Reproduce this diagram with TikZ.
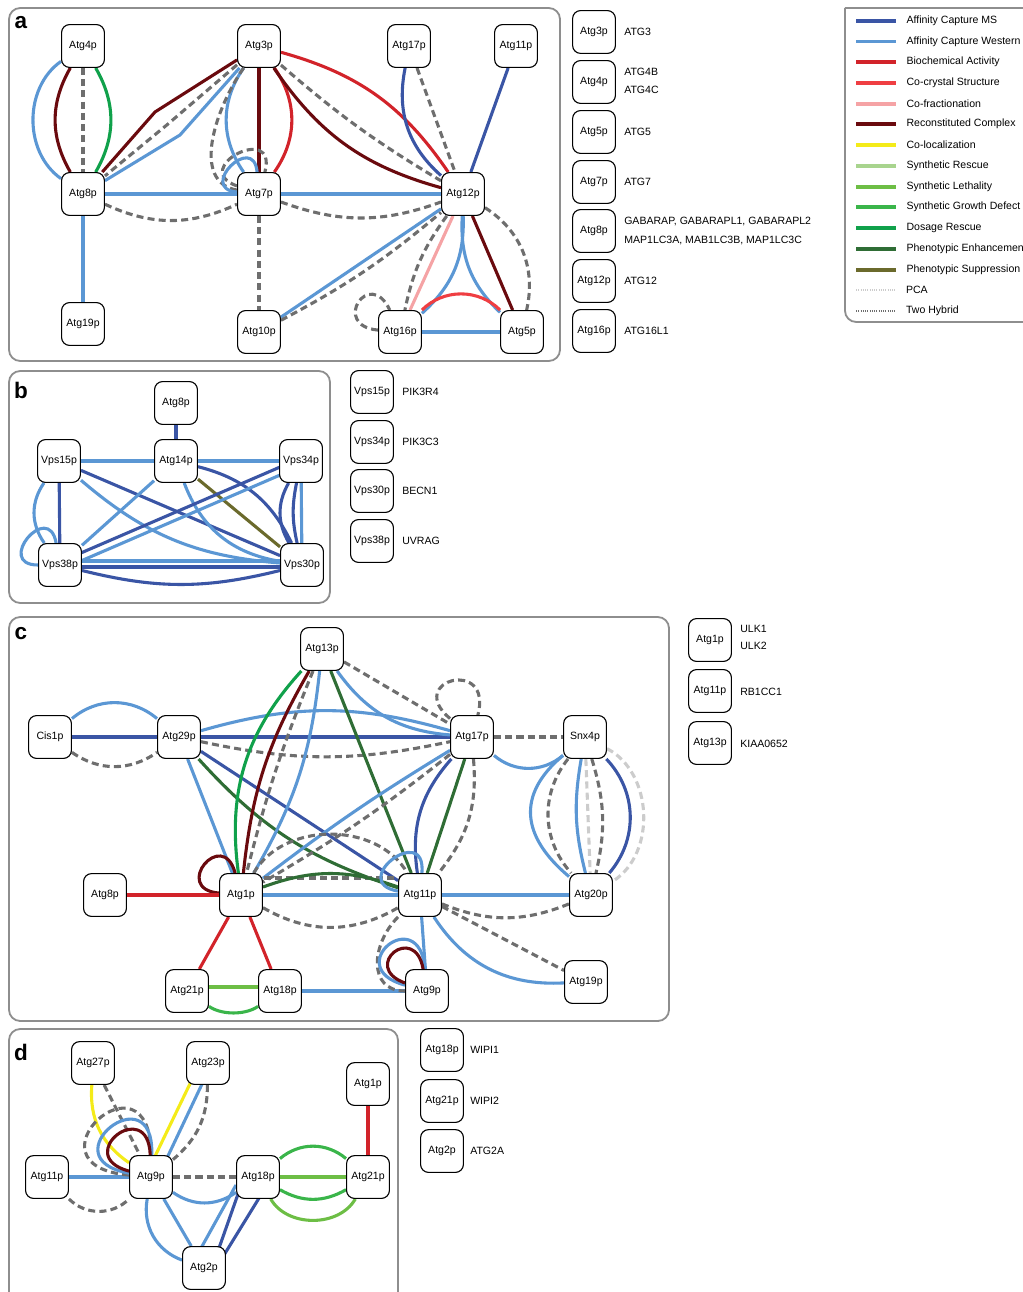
\documentclass[tikz,border=0pt]{standalone}
\usepackage{fontspec}
\setmainfont{Liberation Sans}
\usetikzlibrary{calc}
\definecolor{cms}{HTML}{3A55A5}
\definecolor{cwb}{HTML}{5B97D4}
\definecolor{cbio}{HTML}{D2232A}
\definecolor{cxtal}{HTML}{EF3E42}
\definecolor{cfrac}{HTML}{F5A3A5}
\definecolor{crcx}{HTML}{6A0A0E}
\definecolor{cloc}{HTML}{F4EB19}
\definecolor{csrs}{HTML}{A8D48E}
\definecolor{csl}{HTML}{6DBE45}
\definecolor{csgd}{HTML}{3AB54A}
\definecolor{cdr}{HTML}{10A14B}
\definecolor{cpe}{HTML}{2F6D35}
\definecolor{cps}{HTML}{6B6A2C}
\definecolor{cpca}{HTML}{CCCCCC}
\definecolor{cyth}{HTML}{6E6E6E}
\definecolor{rahmen}{HTML}{8E8E8E}
\pgfdeclarelayer{bg}
\pgfsetlayers{bg,main}
\tikzset{
  prot/.style={draw,fill=white,rounded corners=0.2cm,minimum width=1.07cm,minimum height=1.07cm,inner sep=0pt,line width=0.8pt,font=\fontsize{7.5}{9}\selectfont},
  txt/.style={anchor=west,inner sep=0pt,font=\fontsize{7.5}{9}\selectfont},
  lgd/.style={anchor=west,inner sep=0pt,xshift=6.4pt,text=black,font=\fontsize{7.5}{9}\selectfont},
  lbl/.style={inner sep=0pt,font=\fontsize{16}{16}\selectfont\bfseries},
  panel/.style={rahmen,line width=1.3pt,rounded corners=0.28cm},
  lk/.style={line width=2.2pt},
  ms/.style={lk,cms},
  wb/.style={lk,cwb},
  bio/.style={lk,cbio},
  xtal/.style={lk,cxtal},
  frac/.style={lk,cfrac},
  rcx/.style={lk,crcx},
  loc/.style={lk,cloc},
  srs/.style={lk,csrs},
  sl/.style={lk,csl},
  sgd/.style={lk,csgd},
  dr/.style={lk,cdr},
  pe/.style={lk,cpe},
  ps/.style={lk,cps},
  pca/.style={lk,cpca,dash pattern=on 5pt off 3pt},
  yth/.style={lk,cyth,dash pattern=on 5pt off 3pt},
  dots/.style={line width=1.5pt,dash pattern=on 0.8pt off 0.8pt},
}

\begin{document}
\begin{tikzpicture}[x=0.025cm,y=0.025cm]
  \useasboundingbox (0,0) rectangle (1022,-1292);

  % a
  \node[lbl] (lab-a) at (21,-23) {a};
  \node[prot] (a4) at (83,-46) {Atg4p};
  \node[prot] (a3) at (259,-46) {Atg3p};
  \node[prot] (a17) at (409,-46) {Atg17p};
  \node[prot] (a11) at (516,-46) {Atg11p};
  \node[prot] (a8) at (83,-194) {Atg8p};
  \node[prot] (a7) at (259,-194) {Atg7p};
  \node[prot] (a12) at (463,-194) {Atg12p};
  \node[prot] (a19) at (83,-324) {Atg19p};
  \node[prot] (a10) at (259,-332) {Atg10p};
  \node[prot] (a16) at (400,-332) {Atg16p};
  \node[prot] (a5) at (522,-332) {Atg5p};

  \node[prot] (la3) at (594,-32) {Atg3p};
  \node[prot] (la4) at (594,-82) {Atg4p};
  \node[prot] (la5) at (594,-132) {Atg5p};
  \node[prot] (la7) at (594,-182) {Atg7p};
  \node[prot] (la8) at (594,-231) {Atg8p};
  \node[prot] (la12) at (594,-281) {Atg12p};
  \node[prot] (la16) at (594,-331) {Atg16p};
  \node[txt] (ta3) at (624,-32) {ATG3};
  \node[txt] (ta4b) at (624,-72) {ATG4B};
  \node[txt] (ta4c) at (624,-90) {ATG4C};
  \node[txt] (ta5) at (624,-132) {ATG5};
  \node[txt] (ta7) at (624,-182) {ATG7};
  \node[txt] (ta8a) at (624,-221) {GABARAP, GABARAPL1, GABARAPL2};
  \node[txt] (ta8b) at (624,-240) {MAP1LC3A, MAB1LC3B, MAP1LC3C};
  \node[txt] (ta12) at (624,-281) {ATG12};
  \node[txt] (ta16) at (624,-331) {ATG16L1};

  % b
  \node[lbl] (lab-b) at (21,-390) {b};
  \node[prot] (b8) at (176,-403) {Atg8p};
  \node[prot] (b14) at (176,-461) {Atg14p};
  \node[prot] (b15) at (59,-461) {Vps15p};
  \node[prot] (b34) at (301,-461) {Vps34p};
  \node[prot] (b38) at (60,-565) {Vps38p};
  \node[prot] (b30) at (302,-565) {Vps30p};

  \node[prot] (lb15) at (372,-392) {Vps15p};
  \node[prot] (lb34) at (372,-442) {Vps34p};
  \node[prot] (lb30) at (372,-491) {Vps30p};
  \node[prot] (lb38) at (372,-541) {Vps38p};
  \node[txt] (tb15) at (402,-392) {PIK3R4};
  \node[txt] (tb34) at (402,-442) {PIK3C3};
  \node[txt] (tb30) at (402,-491) {BECN1};
  \node[txt] (tb38) at (402,-541) {UVRAG};

  % c
  \node[lbl] (lab-c) at (21,-634) {c};
  \node[prot] (c13) at (322,-649) {Atg13p};
  \node[prot] (ccis) at (50,-737) {Cis1p};
  \node[prot] (c29) at (179,-737) {Atg29p};
  \node[prot] (c17) at (472,-737) {Atg17p};
  \node[prot] (csnx) at (585,-737) {Snx4p};
  \node[prot] (c8) at (105,-895) {Atg8p};
  \node[prot] (c1) at (241,-895) {Atg1p};
  \node[prot] (c11) at (420,-895) {Atg11p};
  \node[prot] (c20) at (591,-895) {Atg20p};
  \node[prot] (c21) at (187,-991) {Atg21p};
  \node[prot] (c18) at (280,-991) {Atg18p};
  \node[prot] (c9) at (427,-991) {Atg9p};
  \node[prot] (c19) at (586,-982) {Atg19p};

  \node[prot] (lc1) at (710,-640) {Atg1p};
  \node[prot] (lc11) at (710,-691) {Atg11p};
  \node[prot] (lc13) at (710,-743) {Atg13p};
  \node[txt] (tc1a) at (740,-629) {ULK1};
  \node[txt] (tc1b) at (740,-646) {ULK2};
  \node[txt] (tc11) at (740,-692) {RB1CC1};
  \node[txt] (tc13) at (740,-744) {KIAA0652};

  % d
  \node[lbl] (lab-d) at (21,-1052) {d};
  \node[prot] (d27) at (93,-1063) {Atg27p};
  \node[prot] (d23) at (208,-1063) {Atg23p};
  \node[prot] (d1) at (368,-1084) {Atg1p};
  \node[prot] (d11) at (47,-1177) {Atg11p};
  \node[prot] (d9) at (151,-1177) {Atg9p};
  \node[prot] (d18) at (258,-1177) {Atg18p};
  \node[prot] (d21) at (368,-1177) {Atg21p};
  \node[prot] (d2) at (204,-1268) {Atg2p};

  \node[prot] (ld18) at (442,-1050) {Atg18p};
  \node[prot] (ld21) at (442,-1101) {Atg21p};
  \node[prot] (ld2) at (442,-1151) {Atg2p};
  \node[txt] (td18) at (470,-1050) {WIPI1};
  \node[txt] (td21) at (470,-1101) {WIPI2};
  \node[txt] (td2) at (470,-1151) {ATG2A};

  % legend
  \draw[panel] (845,-8) -- (1040,-8) (1040,-322) -- (845,-322) -- (845,-8);
  \draw[ms] (856,-21) -- (896,-21) node[lgd] (g1) {Affinity Capture MS};
  \draw[wb] (856,-41.5) -- (896,-41.5) node[lgd] (g2) {Affinity Capture Western};
  \draw[bio] (856,-62) -- (896,-62) node[lgd] (g3) {Biochemical Activity};
  \draw[xtal] (856,-83) -- (896,-83) node[lgd] (g4) {Co-crystal Structure};
  \draw[frac] (856,-104) -- (896,-104) node[lgd] (g5) {Co-fractionation};
  \draw[rcx] (856,-124) -- (896,-124) node[lgd] (g6) {Reconstituted Complex};
  \draw[loc] (856,-145) -- (896,-145) node[lgd] (g7) {Co-localization};
  \draw[srs] (856,-166) -- (896,-166) node[lgd] (g8) {Synthetic Rescue};
  \draw[sl] (856,-187) -- (896,-187) node[lgd] (g9) {Synthetic Lethality};
  \draw[sgd] (856,-207) -- (896,-207) node[lgd] (g10) {Synthetic Growth Defect};
  \draw[dr] (856,-228) -- (896,-228) node[lgd] (g11) {Dosage Rescue};
  \draw[pe] (856,-249) -- (896,-249) node[lgd] (g12) {Phenotypic Enhancement};
  \draw[ps] (856,-270) -- (896,-270) node[lgd] (g13) {Phenotypic Suppression};
  \draw[cpca,dots] (856,-290) -- (896,-290) node[lgd] (g14) {PCA};
  \draw[cyth,dots] (856,-311) -- (896,-311) node[lgd] (g15) {Two Hybrid};

  \begin{pgfonlayer}{bg}
    \draw[panel] (9,-8) rectangle (560,-361);
    \draw[panel] (9,-371) rectangle (330,-603);
    \draw[panel] (9,-617) rectangle (669,-1021);
    \draw[panel] (9,-1300) -- (9,-1029) -- (398,-1029) -- (398,-1300);

    % a edges
    \draw[wb] (a4) to[out=215,in=145] (a8);
    \draw[rcx] (a4) to[out=240,in=120] (a8);
    \draw[yth] (a4) -- (a8);
    \draw[dr] (a4) to[out=300,in=60] (a8);
    \draw[rcx] (a3) -- (155,-112) -- (a8);
    \draw[yth] (a3) -- (168,-124) -- (a8);
    \draw[wb] (a3) -- (180,-135) -- (a8);
    \draw[wb] (a3) to[bend right=35] (a7);
    \draw[rcx] (a3) -- (a7);
    \draw[bio] (a3) to[bend left=35] (a7);
    \draw[yth] (a3) to[out=235,in=170] (a7);
    \draw[yth] (a7) to[out=160,in=75,min distance=1.3cm] (a7);
    \draw[wb] (a7) to[out=175,in=95,min distance=1cm] (a7);
    \draw[bio] (a3) to[bend left=20] (a12);
    \draw[rcx] (a3) to[bend right=20] (a12);
    \draw[yth] (a3) to[bend right=5] (a12);
    \draw[ms] (a17) to[bend right=30] (a12);
    \draw[yth] (a17) -- (a12);
    \draw[ms] (a11) -- (a12);
    \draw[wb] (a8) -- (a7);
    \draw[yth] (a8) to[bend right=25] (a7);
    \draw[wb] (a7) -- (a12);
    \draw[yth] (a7) to[bend right=20] (a12);
    \draw[wb] (a8) -- (a19);
    \draw[yth] (a7) -- (a10);
    \draw[wb] (a10) -- (a12);
    \draw[yth] (a10) to[bend right=6] (a12);
    \draw[frac] (a12) -- (a16);
    \draw[wb] (a12) to[bend left=25] (a16);
    \draw[yth] (a12) to[bend right=12] (a16);
    \draw[yth] (a16) to[out=175,in=115,min distance=1.2cm] (a16);
    \draw[wb] (a12) to[bend right=25] (a5);
    \draw[rcx] (a12) -- (a5);
    \draw[yth] (a12) to[bend left=35] (a5);
    \draw[wb] (a16) -- (a5);
    \draw[xtal] (a16) to[bend left=45] (a5);

    % b edges
    \draw[ms] (b8) -- (b14);
    \draw[wb] (b15) -- (b14);
    \draw[wb] (b14) -- (b34);
    \draw[ms] (b15) -- (b38);
    \draw[wb] (b15) to[bend right=35] (b38);
    \draw[wb] (b38) to[out=180,in=100,min distance=1.1cm] (b38);
    \draw[ms] (b15) -- (b30);
    \draw[wb] (b15) to[bend right=18] (b30);
    \draw[wb] (b14) -- (b38);
    \draw[ps] (b14) -- (b30);
    \draw[ms] (b14) to[bend left=25] (b30);
    \draw[wb] (b14) to[bend right=30] (b30);
    \draw[ms] ($(b34)+(0,3)$) -- ($(b38)+(0,3)$);
    \draw[wb] ($(b34)+(0,-5)$) -- ($(b38)+(0,-5)$);
    \draw[wb] (b34) -- (b30);
    \draw[ms] (b34) to[bend right=30] (b30);
    \draw[ms] (b34) to[bend right=12] (b30);
    \draw[wb] ($(b38)+(0,4)$) -- ($(b30)+(0,4)$);
    \draw[ms] ($(b38)+(0,-2)$) -- ($(b30)+(0,-2)$);
    \draw[ms] (b38) to[bend right=14] (b30);

    % c edges
    \draw[ms] (ccis) -- (c29);
    \draw[wb] (ccis) to[bend left=40] (c29);
    \draw[yth] (ccis) to[bend right=35] (c29);
    \draw[ms] (c29) -- (c17);
    \draw[wb] (c29) to[bend left=16] (c17);
    \draw[yth] (c29) to[bend right=12] (c17);
    \draw[wb] (c29) -- (c1);
    \draw[ms] (c29) -- (c11);
    \draw[pe] (c29) to[bend right=15] (c11);
    \draw[dr] (c13) to[bend right=25] (c1);
    \draw[rcx] (c13) to[bend right=12] (c1);
    \draw[yth] (c13) to[bend right=4] (c1);
    \draw[wb] (c13) to[bend left=12] (c1);
    \draw[pe] (c13) -- (c11);
    \draw[wb] (c13) to[bend right=25] (c17);
    \draw[yth] (c13) -- (c17);
    \draw[yth] (c17) to[out=140,in=75,min distance=1.5cm] (c17);
    \draw[yth] (c17) -- (csnx);
    \draw[wb] (c17) to[bend right=40] (csnx);
    \draw[wb] (c17) to[bend right=3] (c1);
    \draw[yth] (c17) to[bend left=4] (c1);
    \draw[ms] (c17) to[bend right=25] (c11);
    \draw[pe] (c17) -- (c11);
    \draw[yth] (c17) to[bend left=22] (c11);
    \draw[wb] (c1) -- (c11);
    \draw[yth] ($(c1)+(0,17)$) -- ($(c11)+(0,17)$);
    \draw[pe] (c1) to[bend left=20] (c11);
    \draw[yth] (c1) to[bend left=60] (c11);
    \draw[yth] (c1) to[bend right=30] (c11);
    \draw[wb] (c11) to[out=170,in=85,min distance=1.3cm] (c11);
    \draw[rcx] (c1) to[out=175,in=105,min distance=1.2cm] (c1);
    \draw[bio] (c8) -- (c1);
    \draw[bio] (c1) -- (c21);
    \draw[bio] (c1) -- (c18);
    \draw[sl] ($(c21)+(0,4)$) -- ($(c18)+(0,4)$);
    \draw[sgd] (c21) to[out=-35,in=215,looseness=0.8] (c18);
    \draw[wb] (c18) -- (c9);
    \draw[wb] (c11) -- (c20);
    \draw[yth] (c11) to[bend right=22] (c20);
    \draw[yth] (c11) -- (c19);
    \draw[wb] (c11) to[bend right=30] (c19);
    \draw[wb] (c11) -- (c9);
    \draw[yth] (c11) to[out=225,in=180,looseness=1.3] (c9);
    \draw[wb] (c9) to[out=165,in=95,min distance=1.7cm] (c9);
    \draw[rcx] (c9) to[out=160,in=100,min distance=1.2cm] (c9);
    \draw[wb] (csnx) to[out=220,in=140,looseness=1.3] (c20);
    \draw[yth] (csnx) to[bend right=40] (c20);
    \draw[wb] (csnx) to[bend right=12] (c20);
    \draw[pca] (csnx) -- (c20);
    \draw[yth] (csnx) to[bend left=15] (c20);
    \draw[ms] (csnx) to[bend left=42] (c20);
    \draw[pca] (csnx) to[bend left=60] (c20);

    % d edges
    \draw[bio] (d1) -- (d21);
    \draw[sl] (d18) -- (d21);
    \draw[sgd] (d18) to[bend left=40] (d21);
    \draw[sgd] (d18) to[bend right=30] (d21);
    \draw[sl] (d18) to[out=300,in=240] (d21);
    \draw[yth] (d9) -- (d18);
    \draw[wb] (d9) to[bend right=35] (d18);
    \draw[wb] (d11) -- (d9);
    \draw[yth] (d11) to[bend right=45] (d9);
    \draw[loc] (d27) to[bend right=30] (d9);
    \draw[yth] (d27) -- (d9);
    \draw[yth] (d9) to[out=175,in=90,min distance=2.8cm] (d9);
    \draw[wb] (d9) to[out=170,in=88,min distance=2.1cm] (d9);
    \draw[rcx] (d9) to[out=165,in=92,min distance=1.5cm] (d9);
    \draw[loc] ($(d23)+(-8,0)$) -- ($(d9)+(-6,0)$);
    \draw[wb] ($(d23)+(4,0)$) -- ($(d9)+(7,0)$);
    \draw[yth] (d23) to[bend left=25] (d9);
    \draw[wb] (d9) -- (d2);
    \draw[wb] (d9) to[bend right=40] (d2);
    \draw[wb] ($(d2)+(-14,0)$) -- ($(d18)+(-22,-8)$);
    \draw[ms] ($(d2)+(8,0)$) -- ($(d18)+(-14,0)$);
    \draw[ms] ($(d2)+(12,0)$) -- ($(d18)+(14,0)$);
  \end{pgfonlayer}
\end{tikzpicture}
\end{document}
